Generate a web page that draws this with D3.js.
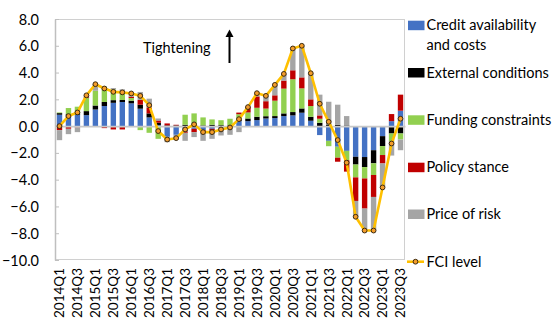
<!DOCTYPE html>
<html>
<head>
<meta charset="utf-8">
<script src="https://cdn.jsdelivr.net/npm/d3@7"></script>
<style>
  html, body { margin: 0; padding: 0; background: #fff; }
  svg { display: block; }
  text { font-family: Lato, "Open Sans", sans-serif; fill: #000; }
</style>
</head>
<body>
<svg id="chart" width="558" height="320"></svg>
<script>
// ---------- data ----------
const quarters = [
  "2014Q1","2014Q2","2014Q3","2014Q4","2015Q1","2015Q2","2015Q3","2015Q4",
  "2016Q1","2016Q2","2016Q3","2016Q4","2017Q1","2017Q2","2017Q3","2017Q4",
  "2018Q1","2018Q2","2018Q3","2018Q4","2019Q1","2019Q2","2019Q3","2019Q4",
  "2020Q1","2020Q2","2020Q3","2020Q4","2021Q1","2021Q2","2021Q3","2021Q4",
  "2022Q1","2022Q2","2022Q3","2022Q4","2023Q1","2023Q2","2023Q3"
];
const creditAvailability = [
  0.85, 0.80, 0.85, 0.82, 1.24, 1.50, 1.74, 1.80, 1.70, 1.30,
  0.65, 0.07, -0.80, -0.65, -0.40, -0.20, -0.30, -0.20, -0.20, -0.10,
  0.37, 0.37, 0.45, 0.57, 0.60, 0.75, 0.80, 1.00, 0.40, -0.67,
  -1.10, -1.54, -1.85, -2.29, -2.31, -1.80, -0.75, 0.37, 1.15
];
const externalConditions = [
  0.12, 0.10, 0.10, 0.30, 0.30, 0.30, 0.20, 0.15, 0.20, 0.30,
  0.30, 0.18, 0.05, 0.05, 0.10, 0.15, 0.05, 0.10, 0.07, 0.05,
  0.12, 0.20, 0.25, 0.17, 0.15, 0.20, 0.25, 0.32, 0.30, 0.25,
  0.12, 0.10, 0.05, -0.58, -0.75, -0.98, -0.74, -0.55, -0.55
];
const fundingConstraints = [
  0.05, 0.45, 0.50, 1.00, 1.10, 1.15, 0.80, 0.55, 0.20, -0.30,
  -0.50, -0.95, 0.00, 0.00, 0.75, 0.80, 0.60, 0.40, 0.37, 0.50,
  0.40, 0.45, 0.67, 0.57, 1.15, 1.85, 2.45, 1.50, 0.80, 0.30,
  -0.40, -0.82, -0.70, -0.96, -0.85, -0.87, -0.67, -0.60, -0.45
];
const policyStance = [
  -0.30, -0.20, -0.10, 0.07, 0.00, -0.15, -0.25, -0.25, 0.10, 0.35,
  0.45, 0.17, 0.15, 0.05, -0.10, -0.25, -0.10, -0.15, 0.00, 0.00,
  0.12, 0.40, 0.85, 0.55, 0.40, 0.60, 0.67, 0.82, 0.50, 0.25,
  0.00, -0.30, -0.85, -1.76, -2.25, -1.64, -0.63, 0.53, 1.20
];
const priceOfRisk = [
  -0.75, -0.40, -0.35, 0.10, 0.50, 0.00, 0.10, 0.25, 0.25, 0.60,
  0.65, 0.15, -0.40, -0.35, -0.60, -0.37, -0.70, -0.60, -0.50, -0.55,
  -0.45, 0.00, 0.25, 0.40, 0.80, 0.50, 1.63, 2.37, 1.95, 1.55,
  1.70, 1.50, 0.70, -1.18, -1.62, -2.50, -1.74, -1.05, -0.80
];
const fciLevel = [
  0.00, 0.75, 1.02, 2.30, 3.13, 2.81, 2.56, 2.52, 2.44, 2.26,
  1.56, -0.37, -1.00, -0.90, -0.25, 0.13, -0.45, -0.45, -0.25, -0.10,
  0.52, 1.42, 2.46, 2.26, 3.08, 3.90, 5.80, 6.00, 3.95, 1.67,
  0.32, -1.04, -2.73, -6.77, -7.80, -7.80, -4.58, -1.30, 0.55
];
const yTicks = [-10, -8, -6, -4, -2, 0, 2, 4, 6, 8];
const seriesNames = ["Credit availability and costs", "External conditions",
                     "Funding constraints", "Policy stance", "Price of risk"];
const seriesColors = ["#4472C4", "#000000", "#92D050", "#C00000", "#A5A5A5"];

// ---------- build ----------
const seriesArrays = [creditAvailability, externalConditions, fundingConstraints, policyStance, priceOfRisk];
const keys = ["credit", "external", "funding", "policy", "price"];
const rows = quarters.map((q, i) => {
  const r = { q };
  keys.forEach((k, j) => r[k] = seriesArrays[j][i]);
  return r;
});

const svg = d3.select("#chart");
const plot = { left: 55, right: 405, top: 19, bottom: 260 };

const x = d3.scaleBand().domain(quarters).range([plot.left, plot.right]).paddingInner(0.4).paddingOuter(0.2);
const y = d3.scaleLinear().domain([-10, 8]).range([plot.bottom, plot.top]);

// frame
svg.append("rect")
  .attr("x", plot.left + 0.5).attr("y", plot.top + 0.5)
  .attr("width", plot.right - plot.left - 1).attr("height", plot.bottom - plot.top - 1)
  .attr("fill", "none").attr("stroke", "#D0D0D0").attr("stroke-width", 1);

// y axis
const yAxis = d3.axisLeft(y).tickValues(yTicks).tickFormat(d3.format(".1f")).tickSizeInner(-4).tickSizeOuter(0).tickPadding(16);
const yg = svg.append("g").attr("transform", `translate(${plot.left},0)`).call(yAxis);
yg.select(".domain").attr("stroke", "#BFBFBF").attr("stroke-width", 1.5);
yg.selectAll(".tick line").attr("stroke", "#BFBFBF");
yg.selectAll(".tick text").attr("font-size", 14.5).style("font-family", "Lato, sans-serif").attr("fill", "#000").attr("dy", "0.35em");

// stacked bars (diverging)
const stack = d3.stack().keys(keys).offset(d3.stackOffsetDiverging);
const stacked = stack(rows);
svg.append("g").selectAll("g").data(stacked).join("g")
  .attr("fill", (d, i) => seriesColors[i])
  .selectAll("rect").data(d => d).join("rect")
  .attr("x", d => x(d.data.q))
  .attr("width", x.bandwidth())
  .attr("y", d => y(Math.max(d[0], d[1])))
  .attr("height", d => Math.abs(y(d[0]) - y(d[1])));

// zero line (category axis)
const xAxis = d3.axisBottom(x).tickValues([]).tickSizeOuter(0);
const xg = svg.append("g").attr("transform", `translate(0,${y(0)})`).call(xAxis);
xg.select(".domain").attr("stroke", "#C8C8C8").attr("stroke-width", 1.6);

// x labels
const labelAxis = d3.axisBottom(x).tickValues(quarters.filter((q, i) => i % 2 === 0)).tickSize(0).tickPadding(0);
const lg = svg.append("g").attr("transform", `translate(0,${plot.bottom})`).call(labelAxis);
lg.select(".domain").remove();
lg.selectAll(".tick text")
  .attr("font-size", 13.5).style("font-family", "Lato, sans-serif").attr("fill", "#000")
  .attr("transform", "rotate(-90)")
  .attr("text-anchor", "end")
  .attr("x", -8).attr("y", 0).attr("dy", "0.36em");

// FCI line
const line = d3.line().x((d, i) => x(quarters[i]) + x.bandwidth() / 2).y(d => y(d));
svg.append("path").datum(fciLevel).attr("d", line)
  .attr("fill", "none").attr("stroke", "#FFC000").attr("stroke-width", 2.6).attr("stroke-linejoin", "round");
svg.append("g").selectAll("circle").data(fciLevel).join("circle")
  .attr("cx", (d, i) => x(quarters[i]) + x.bandwidth() / 2)
  .attr("cy", d => y(d))
  .attr("r", 2.4)
  .attr("fill", "#F39C2B").attr("stroke", "#3B2A10").attr("stroke-width", 1);

// Tightening annotation
svg.append("text").attr("x", 143).attr("y", 53).attr("font-size", 14.5).text("Tightening");
svg.append("line").attr("x1", 229.5).attr("x2", 229.5).attr("y1", 63).attr("y2", 36)
  .attr("stroke", "#000").attr("stroke-width", 2);
svg.append("path").attr("d", "M225.5,37 L229.5,29.5 L233.5,37 Z").attr("fill", "#000");

// legend
const legendTops = [20.7, 68, 115.3, 162.7, 209.5];
const leg = svg.append("g");
seriesNames.forEach((name, i) => {
  leg.append("rect").attr("x", 408).attr("y", legendTops[i]).attr("width", 16.5).attr("height", 9.5).attr("fill", seriesColors[i]);
});
const legText = [["Credit availability", "and costs"], ["External conditions"], ["Funding constraints"], ["Policy stance"], ["Price of risk"]];
legText.forEach((lines, i) => {
  const t = leg.append("text").attr("x", 426.5).attr("y", legendTops[i] + 9.5).attr("font-size", 14.5);
  lines.forEach((l, j) => t.append("tspan").attr("x", 426.5).attr("dy", j === 0 ? 0 : 19.5).text(l));
});
leg.append("line").attr("x1", 407).attr("x2", 424).attr("y1", 261.7).attr("y2", 261.7).attr("stroke", "#FFC000").attr("stroke-width", 2.6);
leg.append("circle").attr("cx", 415.5).attr("cy", 261.7).attr("r", 2.4).attr("fill", "#F39C2B").attr("stroke", "#3B2A10").attr("stroke-width", 1);
leg.append("text").attr("x", 426.5).attr("y", 266.5).attr("font-size", 14.5).text("FCI level");
</script>
</body>
</html>
